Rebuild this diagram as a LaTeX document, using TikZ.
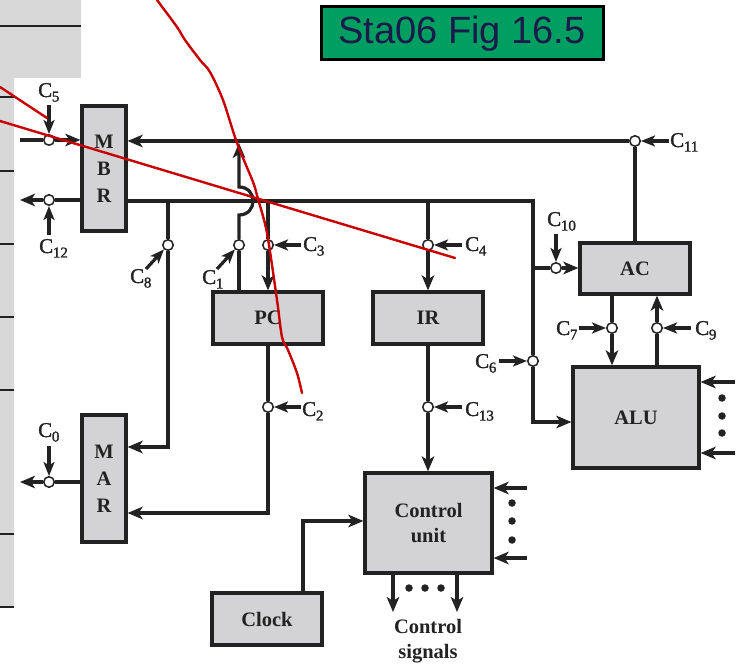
\documentclass[tikz,border=0pt]{standalone}
\usepackage{fontspec}
\setmainfont{Liberation Serif}
\newfontfamily\titlefont{Liberation Sans}
\newfontfamily\labfont[FakeBold=1.5]{Liberation Serif}
\usetikzlibrary{arrows.meta}
\definecolor{boxgray}{HTML}{D3D3D5}
\definecolor{ink}{HTML}{222222}
\definecolor{titlegreen}{HTML}{009E60}
\definecolor{titleink}{HTML}{1B1B4B}
\definecolor{pen}{HTML}{C80000}
\definecolor{panel}{HTML}{D8D8D8}
\newcommand\Cx[1]{\labfont C\kern-0.3pt\raisebox{-4.5pt}{\fontsize{15}{15}\selectfont #1}}
\tikzset{
  hd/.tip={Stealth[length=15pt,width=12.5pt,inset=4pt]},
  hc/.tip={Stealth[length=14pt,width=11pt,inset=3.5pt]},
  blk/.style={draw=ink, line width=3.2pt, fill=boxgray, inner sep=0pt, text=ink,
    font=\fontsize{20.5}{27}\selectfont\bfseries, align=center},
  bus/.style={draw=ink, line width=3.8pt},
  wire/.style={draw=ink, line width=3.2pt},
  ctrl/.style={draw=ink, line width=3.2pt, -hc},
  sw/.style={circle, draw=ink, fill=white, line width=1.5pt, minimum size=10.5pt, inner sep=0pt},
  clab/.style={font=\fontsize{21}{21}\selectfont, text=ink, inner sep=0pt, anchor=base west},
  dotm/.style={circle, fill=ink, minimum size=7.5pt, inner sep=0pt},
  pencil/.style={draw=pen, line width=2.4pt, line cap=round, line join=round}
}
\begin{document}
\begin{tikzpicture}[x=1pt,y=-1pt]
\useasboundingbox (0,0) rectangle (742,668);
% left background panel
\fill[panel] (0,0) -- (81,0) -- (81,78) -- (14,78) -- (14,607) -- (0,607) -- cycle;
\draw[ink, line width=2.6pt] (0,26) -- (81,26);
\foreach \yy in {97,171,244,317,390,534,607} \draw[ink, line width=2.6pt] (0,\yy) -- (14,\yy);

% title
\node[draw=black, line width=3pt, fill=titlegreen, minimum width=282pt, minimum height=53pt,
  inner sep=0pt, text=titleink, font=\titlefont\fontsize{38}{38}\selectfont] (title) at (462,33.5) {Sta06 Fig 16.5};

% boxes
\node[blk, minimum width=44pt, minimum height=125pt] (mbr) at (104,168.5) {M\\B\\R};
\node[blk, minimum width=44pt, minimum height=127pt] (mar) at (104,478.5) {M\\A\\R};
\node[blk, minimum width=110pt, minimum height=52pt] (pc) at (268,318) {PC};
\node[blk, minimum width=110pt, minimum height=52pt] (ir) at (428,318) {IR};
\node[blk, minimum width=110pt, minimum height=51pt] (ac) at (635,268.5) {AC};
\node[blk, minimum width=126pt, minimum height=101pt] (alu) at (636,417.5) {ALU};
\node[blk, minimum width=127pt, minimum height=100pt, font=\fontsize{20.5}{25}\selectfont\bfseries] (cu) at (428.5,523) {Control\\unit};
\node[blk, minimum width=110pt, minimum height=52pt] (clk) at (267,619) {Clock};

% switch circles
\node[sw] (c0) at (49,482) {};
\node[sw] (c1) at (239,245) {};
\node[sw] (c2) at (268,407) {};
\node[sw] (c3) at (268,245) {};
\node[sw] (c4) at (428,245) {};
\node[sw] (c5) at (49,140) {};
\node[sw] (c6) at (533,361) {};
\node[sw] (c7) at (612,328) {};
\node[sw] (c8) at (168,245) {};
\node[sw] (c9) at (657,328) {};
\node[sw] (c10) at (556,268) {};
\node[sw] (c11) at (635,141) {};
\node[sw] (c12) at (49,200) {};
\node[sw] (c13) at (428,407) {};

% coordinates
\coordinate (b2r) at (533,201);
\coordinate (b2t) at (533,268);
\coordinate (b2b) at (533,422);
\coordinate (o12) at (20,200);
\coordinate (i5) at (20,140);
\coordinate (h1) at (239,215);
\coordinate (h2) at (239,187);
\coordinate (t1) at (239,143);
\coordinate (t3) at (268,201);
\coordinate (m2) at (268,513);
\coordinate (t8) at (168,201);
\coordinate (m8) at (168,447);
\coordinate (o0) at (20,482);
\coordinate (t4) at (428,201);
\coordinate (a1) at (735,382);
\coordinate (a2) at (735,453);
\coordinate (u1) at (527,488);
\coordinate (u2) at (527,558);
\coordinate (s1) at (393,612);
\coordinate (s2) at (457,612);
\coordinate (q1) at (303,521);
% control tails
\coordinate (k0) at (49,446);
\coordinate (k1) at (217,269);
\coordinate (k2) at (301,407);
\coordinate (k3) at (301,245);
\coordinate (k4) at (462,245);
\coordinate (k5) at (49,105);
\coordinate (k6) at (499,361);
\coordinate (k7) at (579,328);
\coordinate (k8) at (146,269);
\coordinate (k9) at (691,328);
\coordinate (k10) at (556,234);
\coordinate (k11) at (669,141);
\coordinate (k12) at (49,235);
\coordinate (k13) at (462,407);

% top bus
\draw[bus,-hd] (c11) -- (mbr.east |- c11);
\draw[wire] (c11) -- (ac.north -| c11);
% MBR output bus
\draw[bus] (mbr.east |- b2r) -- (b2r) -- (c6);
\draw[bus,-hd] (c6) -- (b2b) -- (alu.west |- b2b);
\draw[wire] (b2t) -- (c10);
\draw[wire,-hd] (c10) -- (ac.west |- c10);
% MBR left side
\draw[wire] (mbr.west |- c12) -- (c12);
\draw[wire,-hd] (c12) -- (o12);
\draw[wire] (i5) -- (c5);
\draw[wire,-hd] (c5) -- (mbr.west |- c5);
% PC input (C1) with hop
\draw[wire] (pc.north -| c1) -- (c1);
\draw[wire,-hd] (c1) -- (h1) .. controls (257.7,215) and (257.7,187) .. (h2) -- (t1);
% PC load (C3)
\draw[wire] (t3) -- (c3);
\draw[wire,-hd] (c3) -- (pc.north -| c3);
% PC to MAR
\draw[bus] (pc.south -| c2) -- (c2);
\draw[bus,-hd] (c2) -- (m2) -- (mar.east |- m2);
% MBR to MAR (C8)
\draw[wire] (t8) -- (c8);
\draw[bus,-hd] (c8) -- (m8) -- (mar.east |- m8);
% MAR out
\draw[wire] (mar.west |- c0) -- (c0);
\draw[wire,-hd] (c0) -- (o0);
% IR
\draw[wire] (t4) -- (c4);
\draw[wire,-hd] (c4) -- (ir.north);
\draw[wire] (ir.south) -- (c13);
\draw[wire,-hd] (c13) -- (cu.north -| c13);
% AC - ALU
\draw[wire] (ac.south -| c7) -- (c7);
\draw[wire,-hd] (c7) -- (alu.north -| c7);
\draw[wire] (alu.north -| c9) -- (c9);
\draw[wire,-hd] (c9) -- (ac.south -| c9);
% ALU inputs
\draw[wire,-hd] (a1) -- (alu.east |- a1);
\draw[wire,-hd] (a2) -- (alu.east |- a2);
\node[dotm] (da1) at (722,398) {};
\node[dotm] (da2) at (722,416) {};
\node[dotm] (da3) at (722,433) {};
% CU inputs
\draw[wire,-hd] (u1) -- (cu.east |- u1);
\draw[wire,-hd] (u2) -- (cu.east |- u2);
\node[dotm] (du1) at (512,503) {};
\node[dotm] (du2) at (512,521) {};
\node[dotm] (du3) at (512,540) {};
% CU outputs
\draw[wire,-hd] (cu.south -| s1) -- (s1);
\draw[wire,-hd] (cu.south -| s2) -- (s2);
\node[dotm] (ds1) at (409,588) {};
\node[dotm] (ds2) at (425,588) {};
\node[dotm] (ds3) at (441,588) {};
\node[text=ink, font=\fontsize{20.5}{25}\selectfont\bfseries, align=center, inner sep=0pt] (sig) at (428,641) {Control\\signals};
% clock
\draw[bus,-hd] (clk.north -| q1) -- (q1) -- (cu.west |- q1);

% control arrows
\draw[ctrl] (k0) -- (c0);
\draw[ctrl] (k1) -- (c1);
\draw[ctrl] (k2) -- (c2);
\draw[ctrl] (k3) -- (c3);
\draw[ctrl] (k4) -- (c4);
\draw[ctrl] (k5) -- (c5);
\draw[ctrl] (k6) -- (c6);
\draw[ctrl] (k7) -- (c7);
\draw[ctrl] (k8) -- (c8);
\draw[ctrl] (k9) -- (c9);
\draw[ctrl] (k10) -- (c10);
\draw[ctrl] (k11) -- (c11);
\draw[ctrl] (k12) -- (c12);
\draw[ctrl] (k13) -- (c13);

% control labels
\node[clab] (l0) at (38,437) {\Cx{0}};
\node[clab] (l1) at (202,284) {\Cx{1}};
\node[clab] (l2) at (302,416) {\Cx{2}};
\node[clab] (l3) at (303,251) {\Cx{3}};
\node[clab] (l4) at (465,251) {\Cx{4}};
\node[clab] (l5) at (38,97) {\Cx{5}};
\node[clab] (l6) at (475,368) {\Cx{6}};
\node[clab] (l7) at (556,335) {\Cx{7}};
\node[clab] (l8) at (130,283) {\Cx{8}};
\node[clab] (l9) at (695,335) {\Cx{9}};
\node[clab] (l10) at (547,226) {\Cx{10}};
\node[clab] (l11) at (670,147) {\Cx{11}};
\node[clab] (l12) at (39,253) {\Cx{12}};
\node[clab] (l13) at (465,416) {\Cx{13}};

% red pen annotations
\draw[pencil] (0,87) -- (47,118);
\draw[pencil] (0,121) -- (455,258);
\draw[pencil] plot[smooth, tension=0.5] coordinates {(157,0) (177,27) (185,40) (200,60) (210,72) (223,100) (237,143) (253,182) (258,199) (267,233) (277,300) (282,337) (288,350) (297,373) (302,393)};
\end{tikzpicture}
\end{document}
